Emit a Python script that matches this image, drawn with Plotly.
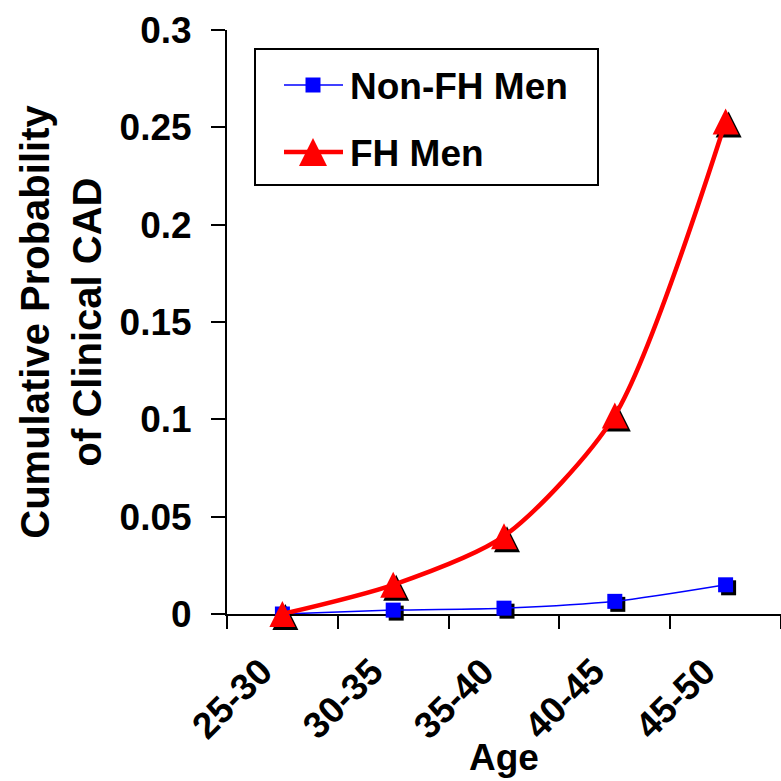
import plotly.graph_objects as go

# ---- data -------------------------------------------------------------
age_groups = ["25-30", "30-35", "35-40", "40-45", "45-50"]
non_fh_men = [0.0, 0.002, 0.003, 0.0065, 0.015]
fh_men = [0.0, 0.015, 0.040, 0.102, 0.253]
series_names = ["Non-FH Men", "FH Men"]
y_tick_values = [0, 0.05, 0.1, 0.15, 0.2, 0.25, 0.3]
x_title = "Age"
y_title = "Cumulative Probability<br>of Clinical CAD"

# ---- layout geometry (pixels) ----------------------------------------
W = H = 781
M_L, M_R, M_T, M_B = 227, 0, 30, 167
PLOT_W = W - M_L - M_R
PLOT_H = H - M_T - M_B
X_RANGE = [-0.5, len(age_groups) - 0.5]
Y_RANGE = [0, 0.3]
X_PER_PX = (X_RANGE[1] - X_RANGE[0]) / PLOT_W
Y_PER_PX = (Y_RANGE[1] - Y_RANGE[0]) / PLOT_H

SHADOW = 3      # drop-shadow offset of markers
SQ_SIZE = 15    # square marker
TRI_SIZE = 26   # arrow-up marker (tip sits on the point)
SMOOTH = 0.75

FONT = "Liberation Sans, Arial, sans-serif"
TICK_FONT = dict(family=FONT, size=37, color="black", weight="bold")


def x_shifted(px_right):
    """Axis range that renders the points px_right pixels further right."""
    d = px_right * X_PER_PX
    return [X_RANGE[0] - d, X_RANGE[1] - d]


def y_shifted(px_up):
    """Axis range that renders the points px_up pixels higher."""
    d = px_up * Y_PER_PX
    return [Y_RANGE[0] - d, Y_RANGE[1] - d]


def px_x(p):
    return (p - M_L) / PLOT_W


def px_y(p):
    return (H - M_B - p) / PLOT_H


styles = [
    dict(color="#0000FF", width=1.5, symbol="square", size=SQ_SIZE),
    dict(color="#FF0000", width=4.5, symbol="arrow-up", size=TRI_SIZE),
]

fig = go.Figure()

# drop shadows (bottom layer)
fig.add_trace(go.Scatter(
    x=age_groups, y=non_fh_men, xaxis="x", yaxis="y", mode="markers",
    marker=dict(symbol="square", size=SQ_SIZE, color="black", line_width=0),
    cliponaxis=False, showlegend=False, hoverinfo="skip"))
fig.add_trace(go.Scatter(
    x=age_groups, y=fh_men, xaxis="x", yaxis="y2", mode="markers",
    marker=dict(symbol="arrow-up", size=TRI_SIZE, color="black", line_width=0),
    cliponaxis=False, showlegend=False, hoverinfo="skip"))

# Non-FH men: thin smoothed line with squares
fig.add_trace(go.Scatter(
    x=age_groups, y=non_fh_men, xaxis="x3", yaxis="y3", name=series_names[0],
    mode="lines+markers",
    line=dict(color=styles[0]["color"], width=styles[0]["width"],
              shape="spline", smoothing=SMOOTH),
    marker=dict(symbol="square", size=SQ_SIZE, color=styles[0]["color"], line_width=0),
    cliponaxis=False, showlegend=False))

# FH men: thick smoothed line, triangles on top
fig.add_trace(go.Scatter(
    x=age_groups, y=fh_men, xaxis="x3", yaxis="y3", name=series_names[1],
    mode="lines",
    line=dict(color=styles[1]["color"], width=styles[1]["width"],
              shape="spline", smoothing=SMOOTH),
    cliponaxis=False, showlegend=False))
fig.add_trace(go.Scatter(
    x=age_groups, y=fh_men, xaxis="x3", yaxis="y4", name=series_names[1],
    mode="markers",
    marker=dict(symbol="arrow-up", size=TRI_SIZE, color=styles[1]["color"], line_width=0),
    cliponaxis=False, showlegend=False))

hidden = dict(visible=False, showgrid=False, zeroline=False, fixedrange=True)

fig.update_layout(
    width=W, height=H,
    margin=dict(l=M_L, r=M_R, t=M_T, b=M_B, pad=0),
    paper_bgcolor="white", plot_bgcolor="white",
    font=dict(family=FONT, color="black"),
    xaxis=dict(type="category", categoryorder="array", categoryarray=age_groups,
               range=x_shifted(SHADOW), anchor="y", **hidden),
    yaxis=dict(range=y_shifted(-SHADOW), anchor="x", **hidden),
    yaxis2=dict(range=y_shifted(TRI_SIZE / 2 - SHADOW), overlaying="y", anchor="x", **hidden),
    yaxis4=dict(range=y_shifted(TRI_SIZE / 2), overlaying="y", anchor="x3", **hidden),
    xaxis3=dict(
        type="category", categoryorder="array", categoryarray=age_groups,
        range=X_RANGE, overlaying="x", anchor="y3",
        showline=True, linecolor="black", linewidth=2,
        ticks="outside", tickson="boundaries", ticklen=13, tickwidth=2, tickcolor="black",
        tickangle=-45, tickfont=TICK_FONT,
        ticklabelstandoff=19, ticklabelshift=-21,
        showgrid=False, zeroline=False, layer="below traces",
    ),
    yaxis3=dict(
        range=Y_RANGE, overlaying="y", anchor="x3",
        tickvals=y_tick_values,
        showline=True, linecolor="black", linewidth=2,
        ticks="outside", ticklen=14, tickwidth=2, tickcolor="black",
        tickfont=TICK_FONT, ticklabelstandoff=12,
        showgrid=False, zeroline=False, layer="below traces",
        title=dict(text=y_title, standoff=6,
                   font=dict(family=FONT, size=40, color="black", weight="bold")),
    ),
)

# x-axis title centred under the plot area
annotations = [dict(text=x_title, xref="paper", yref="paper",
                    x=0.5, y=px_y(757), xanchor="center", yanchor="middle",
                    showarrow=False, font=TICK_FONT)]

# ---- legend box drawn with shapes and annotations --------------------
LEG_BOX = (255, 49, 598, 185)
LEG_ROW_Y = [85, 152]
LEG_LINE_X = (284, 343)
LEG_MARK_X = 313
LEG_TEXT_X = 348
LEG_TRI = 28

shapes = [dict(type="rect", xref="paper", yref="paper",
               x0=px_x(LEG_BOX[0]), x1=px_x(LEG_BOX[2]),
               y0=px_y(LEG_BOX[3]), y1=px_y(LEG_BOX[1]),
               line=dict(color="black", width=2), fillcolor="white", layer="above")]
for name, st, ry in zip(series_names, styles, LEG_ROW_Y):
    shapes.append(dict(type="line", xref="paper", yref="paper",
                       x0=px_x(LEG_LINE_X[0]), x1=px_x(LEG_LINE_X[1]),
                       y0=px_y(ry), y1=px_y(ry),
                       line=dict(color=st["color"], width=st["width"])))
    if st["symbol"] == "square":
        h = st["size"] / 2
        shapes.append(dict(type="rect", xref="paper", yref="paper",
                           x0=px_x(LEG_MARK_X - h), x1=px_x(LEG_MARK_X + h),
                           y0=px_y(ry + h), y1=px_y(ry - h),
                           line_width=0, fillcolor=st["color"]))
    else:
        h = LEG_TRI / 2
        path = "M{},{} L{},{} L{},{} Z".format(
            px_x(LEG_MARK_X), px_y(ry - h),
            px_x(LEG_MARK_X - h), px_y(ry + h),
            px_x(LEG_MARK_X + h), px_y(ry + h))
        shapes.append(dict(type="path", xref="paper", yref="paper", path=path,
                           line_width=0, fillcolor=st["color"]))
    annotations.append(dict(text=name, xref="paper", yref="paper",
                            x=px_x(LEG_TEXT_X), y=px_y(ry + 1),
                            xanchor="left", yanchor="middle", showarrow=False,
                            font=TICK_FONT))

fig.update_layout(shapes=shapes, annotations=annotations)

fig.write_html("out.html")
